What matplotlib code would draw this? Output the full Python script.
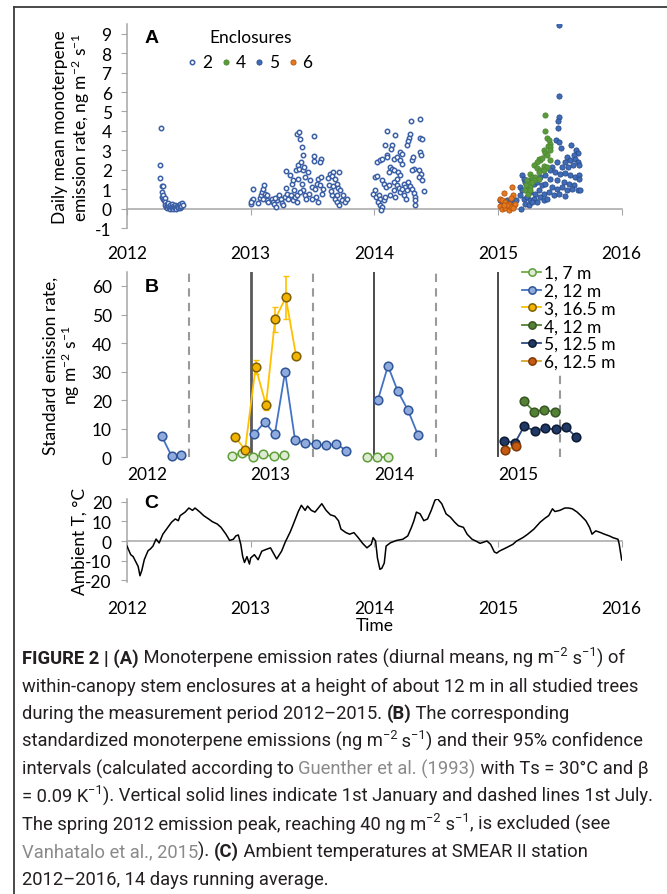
import numpy as np
import matplotlib
matplotlib.use('Agg')
import matplotlib.pyplot as plt
from matplotlib.lines import Line2D

plt.rcParams['font.family'] = ['Lato', 'DejaVu Sans']
plt.rcParams['mathtext.fontset'] = 'custom'
plt.rcParams['mathtext.rm'] = 'Lato'
plt.rcParams['mathtext.it'] = 'Lato:italic'
plt.rcParams['mathtext.bf'] = 'Lato:bold'
plt.rcParams['axes.unicode_minus'] = False

# ---- panel A: daily mean emission rates (decimal year, ng m-2 s-1)
enc2_pts = [
    (2012.275, 4.15), (2012.27, 2.25), (2012.27, 1.6), (2012.28, 1.15), (2012.29, 1.15), (2012.285, 0.85),
    (2012.28, 0.6), (2012.29, 0.5), (2012.295, 0.7), (2012.30, 0.45), (2012.305, 0.55), (2012.31, 0.35),
    (2012.31, 0.2), (2012.315, 0.1), (2012.32, 0.25), (2012.325, 0.05), (2012.33, 0.15), (2012.335, 0.3),
    (2012.34, 0.05), (2012.345, 0.2), (2012.35, 0.0), (2012.355, 0.1), (2012.36, 0.25), (2012.365, 0.05),
    (2012.37, 0.15), (2012.375, 0.0), (2012.38, 0.1), (2012.385, 0.2), (2012.39, 0.05), (2012.395, 0.1),
    (2012.40, 0.0), (2012.405, 0.15), (2012.41, 0.05), (2012.415, 0.1), (2012.42, 0.2), (2012.425, 0.05),
    (2012.43, 0.25), (2012.435, 0.1), (2012.44, 0.15), (2012.445, 0.3), (2012.45, 0.2),
    (2013.003, 0.26), (2013.009, 0.43), (2013.017, 0.51), (2013.022, 1.03), (2013.003, 0.34),
    (2013.063, 0.30), (2013.076, 0.55), (2013.084, 0.69), (2013.09, 0.86), (2013.103, 1.0), (2013.111, 1.2),
    (2013.117, 0.77), (2013.125, 0.6), (2013.13, 0.43), (2013.144, 0.34), (2013.135, 0.69), (2013.098, 0.51),
    (2013.17, 0.51), (2013.178, 0.34), (2013.189, 0.26), (2013.205, 0.09), (2013.216, 0.43), (2013.224, 0.6),
    (2013.232, 0.69), (2013.243, 0.51), (2013.251, 0.3), (2013.259, 0.21), (2013.197, 0.55),
    (2013.278, 0.6), (2013.286, 1.06), (2013.286, 1.92), (2013.297, 0.77), (2013.305, 0.51), (2013.319, 1.71),
    (2013.324, 0.69), (2013.332, 1.29), (2013.34, 0.43), (2013.346, 1.46), (2013.351, 0.94), (2013.359, 0.6),
    (2013.367, 1.97), (2013.373, 0.69),
    (2013.373, 3.86), (2013.392, 3.94), (2013.4, 3.56), (2013.413, 3.17), (2013.427, 2.74), (2013.381, 2.23),
    (2013.392, 2.06), (2013.405, 2.4), (2013.421, 1.97), (2013.432, 2.14), (2013.44, 1.63), (2013.386, 1.54),
    (2013.413, 1.29), (2013.427, 0.94), (2013.44, 0.69), (2013.448, 0.51), (2013.4, 0.86), (2013.378, 0.34),
    (2013.508, 3.74), (2013.508, 2.71), (2013.513, 2.43), (2013.567, 2.57), (2013.561, 2.4), (2013.467, 1.89),
    (2013.48, 1.46), (2013.494, 1.11), (2013.475, 0.77), (2013.521, 1.03), (2013.534, 1.29), (2013.548, 1.54),
    (2013.561, 1.2), (2013.575, 0.77), (2013.583, 1.03), (2013.529, 0.6), (2013.548, 0.34), (2013.494, 0.51),
    (2013.567, 1.63),
    (2013.642, 1.8), (2013.664, 1.86), (2013.715, 1.86), (2013.629, 1.58), (2013.656, 1.68), (2013.683, 1.54),
    (2013.696, 1.29), (2013.637, 1.2), (2013.669, 1.17), (2013.71, 1.06), (2013.723, 0.94), (2013.656, 0.69),
    (2013.683, 0.51), (2013.696, 0.34), (2013.718, 0.17), (2013.737, 0.43), (2013.75, 0.69), (2013.764, 0.34),
    (2013.777, 0.51), (2013.648, 0.89), (2013.702, 0.72),
    (2014.295, 4.53), (2014.371, 4.6), (2014.106, 3.98), (2014.168, 3.8), (2014.29, 3.82), (2014.284, 3.63),
    (2014.276, 3.46), (2014.268, 3.26), (2014.371, 3.63), (2014.384, 3.56), (2014.087, 3.26), (2014.142, 3.26),
    (2014.133, 3.09), (2014.209, 2.9), (2014.222, 2.83), (2014.371, 2.9), (2014.376, 2.74), (2014.02, 2.4),
    (2014.047, 2.5), (2014.06, 2.54), (2014.101, 2.74), (2014.106, 2.64), (2014.155, 2.57), (2014.182, 2.66),
    (2014.209, 2.49), (2014.222, 2.31), (2014.303, 2.49), (2014.311, 2.66), (2014.006, 1.63), (2014.02, 1.68),
    (2014.123, 2.14), (2014.142, 2.06), (2014.155, 1.97), (2014.115, 1.89), (2014.195, 1.89), (2014.209, 1.71),
    (2014.187, 1.54), (2014.317, 2.06), (2014.303, 1.97), (2014.365, 1.97), (2014.376, 1.8), (2014.357, 1.63),
    (2014.384, 1.46), (2014.398, 0.9), (2014.06, 1.46), (2014.074, 1.29), (2014.096, 1.11), (2014.115, 1.2),
    (2014.155, 1.37), (2014.182, 1.23), (2014.203, 1.06), (2014.236, 1.29), (2014.249, 1.11), (2014.263, 0.94),
    (2014.276, 1.37), (2014.29, 1.17), (2014.303, 1.03), (2014.317, 0.82), (2014.325, 0.6), (2014.33, 0.43),
    (2014.33, 0.17), (2014.006, 0.94), (2013.993, 0.77), (2014.015, 0.6), (2014.034, 0.69), (2014.047, 0.51),
    (2014.026, 0.34), (2014.042, 0.21), (2014.06, 0.09), (2014.052, -0.09), (2014.074, 0.43), (2014.087, 0.6),
    (2014.128, 0.69), (2014.155, 0.94), (2014.168, 0.6), (2014.209, 0.86), (2014.236, 0.69), (2014.257, 0.51),
    (2014.222, 1.03),
]
enc5_pts = [
    (2015.495, 9.43), (2015.49, 5.81), (2015.49, 4.71), (2015.484, 4.51), (2015.482, 4.17), (2015.468, 3.55),
    (2015.495, 3.43), (2015.511, 3.14), (2015.59, 3.26), (2015.633, 3.03), (2015.644, 2.86), (2015.611, 2.74),
    (2015.557, 2.66), (2015.625, 2.57), (2015.584, 2.49), (2015.644, 2.4), (2015.544, 2.4), (2015.476, 2.4),
    (2015.652, 2.23), (2015.606, 2.23), (2015.563, 2.14), (2015.517, 2.14), (2015.436, 2.14), (2015.417, 1.97),
    (2015.463, 1.89), (2015.503, 1.8), (2015.544, 1.83), (2015.584, 1.71), (2015.625, 1.63), (2015.652, 1.71),
    (2015.652, 1.54), (2015.382, 1.71), (2015.342, 1.63), (2015.423, 1.54), (2015.476, 1.46), (2015.53, 1.37),
    (2015.571, 1.29), (2015.611, 1.2), (2015.193, 1.71), (2015.207, 1.54), (2015.22, 1.37), (2015.261, 1.46),
    (2015.288, 1.29), (2015.315, 1.37), (2015.355, 1.2), (2015.382, 1.29), (2015.436, 1.11), (2015.476, 1.03),
    (2015.517, 1.11), (2015.557, 0.94), (2015.598, 1.03), (2015.644, 0.94), (2015.66, 0.97), (2015.18, 1.11),
    (2015.193, 0.94), (2015.234, 1.03), (2015.261, 0.86), (2015.301, 0.77), (2015.328, 0.94), (2015.369, 0.77),
    (2015.409, 0.86), (2015.45, 0.69), (2015.49, 0.77), (2015.544, 0.63), (2015.18, 0.69), (2015.207, 0.51),
    (2015.234, 0.6), (2015.261, 0.43), (2015.288, 0.51), (2015.315, 0.34), (2015.342, 0.6), (2015.369, 0.43),
    (2015.396, 0.51), (2015.185, 0.0), (2015.22, 0.26), (2015.247, 0.17), (2015.274, 0.34), (2015.018, 0.43),
    (2015.045, 0.34), (2015.072, 0.43), (2015.099, 0.39), (2015.126, 0.34), (2015.148, 0.43), (2015.032, 0.26),
    (2015.085, 0.22),
]
enc4_pts = [
    (2015.382, 4.8), (2015.376, 3.98), (2015.396, 3.65), (2015.409, 3.51), (2015.417, 3.34), (2015.403, 3.2),
    (2015.423, 3.17), (2015.423, 3.0), (2015.369, 3.0), (2015.382, 2.86), (2015.396, 2.74), (2015.423, 2.49),
    (2015.328, 2.57), (2015.342, 2.49), (2015.315, 2.4), (2015.355, 2.62), (2015.369, 2.2), (2015.396, 2.12),
    (2015.288, 2.23), (2015.315, 2.11), (2015.342, 2.01), (2015.369, 1.97), (2015.328, 1.89), (2015.261, 1.8),
    (2015.274, 1.63), (2015.301, 1.63), (2015.328, 1.54), (2015.288, 1.46), (2015.234, 1.46), (2015.247, 1.29),
    (2015.261, 1.11), (2015.229, 1.2), (2015.274, 1.37), (2015.22, 0.94), (2015.24, 0.77), (2015.255, 0.94),
]
enc6_pts = [
    (2015.112, 1.11), (2015.045, 0.81), (2015.117, 0.69), (2015.104, 0.57), (2015.018, 0.51), (2015.032, 0.43),
    (2015.058, 0.34), (2015.085, 0.26), (2015.126, 0.17), (2015.139, 0.22), (2015.012, 0.12), (2015.032, 0.0),
    (2015.058, 0.05), (2015.085, -0.05), (2015.104, 0.09), (2015.072, 0.17), (2015.045, 0.17), (2015.12, 0.03),
]

# ---- panel B: standard emission rates, one list per campaign
s1_t = [[2012.852, 2012.933, 2013.019, 2013.103, 2013.187, 2013.27], [2013.94, 2014.023, 2014.107]]
s1_v = [[0.6, 1.5, 0.1, 1.0, 0.35, 0.8], [0.25, 0.25, 0.25]]
s2_t = [[2012.28, 2012.36, 2012.44],
        [2013.03, 2013.114, 2013.195, 2013.278, 2013.359, 2013.443, 2013.527, 2013.61, 2013.693, 2013.774],
        [2014.028, 2014.11, 2014.19, 2014.273, 2014.354]]
s2_v = [[7.5, 0.5, 0.7], [8.2, 12.4, 8.0, 29.9, 6.0, 5.1, 4.5, 4.2, 4.7, 2.3], [20.0, 32.0, 23.1, 16.4, 7.7]]
s3_t = [[2012.874, 2012.955, 2013.04, 2013.124, 2013.197, 2013.284, 2013.367]]
s3_v = [[7.1, 2.7, 31.6, 18.3, 48.3, 56.0, 35.5]]
s3_err = [0.0, 0.0, 2.5, 1.7, 4.4, 7.6, 0.0]
s4_t = [[2015.207, 2015.293, 2015.374, 2015.46]]
s4_v = [[19.7, 16.0, 16.7, 15.7]]
s5_t = [[2015.05, 2015.137, 2015.21, 2015.3, 2015.38, 2015.47, 2015.55, 2015.63]]
s5_v = [[5.7, 5.1, 10.8, 9.3, 10.1, 9.8, 10.5, 7.2]]
s6_t = [[2015.06, 2015.145]]
s6_v = [[2.4, 4.0]]
series_labels = ['1, 7 m', '2, 12 m', '3, 16.5 m', '4, 12 m', '5, 12.5 m', '6, 12.5 m']
jan_lines = [2013, 2014, 2015]
jul_lines = [2012.5, 2013.5, 2014.5, 2015.5]

# ---- panel C: ambient temperature, 14 d running mean
temp_t = [2012.0, 2012.03, 2012.05, 2012.09, 2012.105, 2012.12, 2012.14, 2012.17, 2012.19, 2012.21,
          2012.235, 2012.26, 2012.29, 2012.33, 2012.36, 2012.39, 2012.415, 2012.43, 2012.47, 2012.50,
          2012.53, 2012.55, 2012.59, 2012.62, 2012.66, 2012.69, 2012.73, 2012.76, 2012.80, 2012.83,
          2012.86, 2012.88, 2012.90, 2012.92, 2012.935, 2012.95, 2012.97, 2012.99,
          2013.0, 2013.03, 2013.06, 2013.09, 2013.125, 2013.16, 2013.185, 2013.21, 2013.25, 2013.28,
          2013.32, 2013.34, 2013.385, 2013.41, 2013.44, 2013.46, 2013.49, 2013.52, 2013.575, 2013.61,
          2013.645, 2013.68, 2013.71, 2013.73, 2013.77, 2013.80, 2013.835, 2013.87, 2013.905, 2013.94,
          2013.975, 2013.99,
          2014.01, 2014.025, 2014.045, 2014.06, 2014.08, 2014.095, 2014.13, 2014.18, 2014.23, 2014.27,
          2014.30, 2014.32, 2014.34, 2014.37, 2014.40, 2014.43, 2014.46, 2014.49, 2014.51, 2014.545,
          2014.58, 2014.615, 2014.65, 2014.68, 2014.72, 2014.75, 2014.79, 2014.82, 2014.855, 2014.91,
          2014.94, 2014.97, 2014.99,
          2015.01, 2015.065, 2015.12, 2015.15, 2015.20, 2015.24, 2015.29, 2015.34, 2015.38, 2015.41,
          2015.44, 2015.46, 2015.50, 2015.54, 2015.57, 2015.60, 2015.64, 2015.67, 2015.71, 2015.74,
          2015.76, 2015.79, 2015.83, 2015.86, 2015.90, 2015.93, 2015.97, 2015.98, 2016.0]
temp_v = [-2.6, -7, -8, -13, -17.8, -15, -9.5, -5, -4, -2.6,
          1, -1, 3.5, 7, 9.6, 11.3, 10.4, 13, 14.8, 16.9,
          15.7, 16.9, 14.8, 13, 11.3, 9.9, 8.7, 7, 3.5, 0.3,
          0.9, 2.6, 3.1, -1.7, -7.8, -11, -8, -11.8,
          -8.7, -7, -9.6, -5.2, -4.3, -3.5, -6.4, -9.2, -5.2, -0.5,
          4.7, 7.8, 15.1, 18.3, 15.7, 17.9, 15.7, 14.8, 19.1, 15.7,
          13.4, 12.7, 10.4, 6.1, 4.3, 3.5, 4.3, 1.7, -1.2, -3.5,
          -1.7, 1.7,
          0, -8.7, -14.5, -14, -11.3, -2.6, -0.9, 0.3, 0.9, 2.6,
          7, 10.4, 14.8, 13.9, 10.4, 11.3, 15.7, 20.9, 21.7, 19.1,
          13.9, 12.2, 9.6, 7.8, 7, 3.5, 0.9, 0, -1.2, 0,
          -1.7, -5.6, -6.2,
          -5.2, -3.5, -1.7, 0, 1.7, 3.5, 6.1, 9.6, 11.7, 13,
          16.5, 15.1, 15.7, 16.9, 16.9, 16.5, 14.8, 13, 10.4, 7,
          3.5, 5.2, 4.3, 3.5, 2.6, 1.7, 0.9, -1.7, -9.7]

years = [2012, 2013, 2014, 2015, 2016]

AXIS_GRAY = '#a6a6a6'
TICK_SIZE = 12.5

fig = plt.figure(figsize=(6.67, 8.95), dpi=100)

# frame of the figure page
fig.add_artist(Line2D([14 / 667, 1.0], [1 - 8 / 895, 1 - 8 / 895], color='#3a3a3a', lw=1.3))
fig.add_artist(Line2D([14 / 667, 14 / 667], [0.0, 1 - 8 / 895], color='#3a3a3a', lw=1.3))

# ---------------- panel A
axA = fig.add_axes([0.1904, 0.7441, 0.7417, 0.2279])
a2 = np.array(enc2_pts)
a5 = np.array(enc5_pts)
a4 = np.array(enc4_pts)
a6 = np.array(enc6_pts)
h2 = axA.scatter(a2[:, 0], a2[:, 1], s=10, facecolor='white', edgecolor='#3b5fa6', linewidth=1.1, zorder=3)
h5 = axA.scatter(a5[:, 0], a5[:, 1], s=14, facecolor='#3f6cb9', edgecolor='#2a4c8a', linewidth=0.6, zorder=3)
h4 = axA.scatter(a4[:, 0], a4[:, 1], s=14, facecolor='#5b9a3c', edgecolor='#4d8a32', linewidth=0.6, zorder=4)
h6 = axA.scatter(a6[:, 0], a6[:, 1], s=14, facecolor='#e6781e', edgecolor='#b35510', linewidth=0.6, zorder=5)
axA.set_xlim(2012, 2016)
axA.set_ylim(-1, 9.5)
axA.set_yticks(range(-1, 10))
axA.set_xticks(years)
for side in ['top', 'right']:
    axA.spines[side].set_visible(False)
axA.spines['bottom'].set_position(('data', 0))
for side in ['bottom', 'left']:
    axA.spines[side].set_color(AXIS_GRAY)
    axA.spines[side].set_linewidth(1.1)
axA.tick_params(axis='x', length=4.5, color=AXIS_GRAY, pad=22, labelsize=TICK_SIZE)
axA.tick_params(axis='y', length=4, color=AXIS_GRAY, pad=7, labelsize=TICK_SIZE)
axA.set_ylabel('Daily mean monoterpene\nemission rate, ng m$^{-2}$ s$^{-1}$', fontsize=TICK_SIZE,
               va='center', linespacing=1.05)
axA.yaxis.set_label_coords(-0.111, 0.5)
axA.text(0.05, 0.935, 'A', transform=axA.transAxes, fontsize=14, fontweight='bold',
         family='Liberation Sans', ha='center', va='center')
legA = axA.legend([h2, h4, h5, h6], ['2', '4', '5', '6'], ncol=4, title='Enclosures',
                  loc='upper center', bbox_to_anchor=(0.249, 0.975), frameon=False,
                  fontsize=TICK_SIZE, title_fontsize=TICK_SIZE, handlelength=0.5,
                  handletextpad=0.3, columnspacing=0.55, borderpad=0, borderaxespad=0,
                  scatterpoints=1)

# ---------------- panel B
axB = fig.add_axes([0.1904, 0.4879, 0.7417, 0.2074])
styles = [
    dict(color='#70ad47', mfc='#dcebd2', mec='#5f9e3a'),
    dict(color='#4472c4', mfc='#8faadc', mec='#2f5597'),
    dict(color='#ffc000', mfc='#f2b400', mec='#7f6000'),
    dict(color='#548235', mfc='#548235', mec='#375623'),
    dict(color='#2e4a7d', mfc='#1f3864', mec='#0d1a33'),
    dict(color='#d4a52a', mfc='#c55a11', mec='#7f3a0a'),
]
all_t = [s1_t, s2_t, s3_t, s4_t, s5_t, s6_t]
all_v = [s1_v, s2_v, s3_v, s4_v, s5_v, s6_v]
handlesB = []
for k, (ts, vs) in enumerate(zip(all_t, all_v)):
    st = styles[k]
    for j, (t, v) in enumerate(zip(ts, vs)):
        ln, = axB.plot(t, v, '-o', color=st['color'], lw=1.3, ms=6.2, mfc=st['mfc'], mec=st['mec'],
                       mew=1.1, zorder=4, clip_on=False)
        if j == 0:
            handlesB.append(ln)
axB.errorbar(s3_t[0], s3_v[0], yerr=s3_err, fmt='none', ecolor='#ffc000', elinewidth=1.2,
             capsize=2, capthick=1.0, zorder=3)
for x in jan_lines:
    if x == 2013:
        axB.axvline(x, color='#5a5a5a', lw=2.0, zorder=2)
    else:
        axB.axvline(x, color='#1a1a1a', lw=1.1, zorder=2)
for x in jul_lines:
    axB.axvline(x, color='#9a9a9a', lw=1.5, ls=(0, (4, 3)), zorder=1)
axB.set_xlim(2012, 2016)
axB.set_ylim(0, 65)
axB.set_yticks(range(0, 61, 10))
axB.set_xticks(years[:-1])
axB.set_xticklabels([str(y) for y in years[:-1]], ha='left')
for side in ['top', 'right', 'bottom']:
    axB.spines[side].set_visible(False)
axB.spines['left'].set_color(AXIS_GRAY)
axB.spines['left'].set_linewidth(1.1)
axB.tick_params(axis='x', length=0, pad=6, labelsize=TICK_SIZE)
axB.tick_params(axis='y', length=4, color=AXIS_GRAY, pad=7, labelsize=TICK_SIZE)
axB.set_ylabel('Standard emission rate,\nng m$^{-2}$ s$^{-1}$', fontsize=TICK_SIZE, va='center',
               linespacing=1.05)
axB.yaxis.set_label_coords(-0.131, 0.5)
axB.text(0.05, 0.918, 'B', transform=axB.transAxes, fontsize=14, fontweight='bold',
         family='Liberation Sans', ha='center', va='center')
legB = axB.legend(handlesB, series_labels, loc='upper left', bbox_to_anchor=(0.795, 1.045),
                  fontsize=TICK_SIZE, handlelength=1.1, handletextpad=0.15, labelspacing=0.1,
                  borderpad=0.1, borderaxespad=0, frameon=True, framealpha=1, edgecolor='none',
                  facecolor='white', markerscale=0.85)
legB.set_zorder(6)

# ---------------- panel C
axC = fig.add_axes([0.1904, 0.3486, 0.7417, 0.0927])
axC.plot(temp_t, temp_v, color='black', lw=1.1, zorder=3)
axC.set_xlim(2012, 2016)
axC.set_ylim(-21, 21.5)
axC.set_yticks(range(-20, 21, 10))
axC.set_xticks(years)
for side in ['top', 'right']:
    axC.spines[side].set_visible(False)
axC.spines['bottom'].set_position(('data', 0))
for side in ['bottom', 'left']:
    axC.spines[side].set_color(AXIS_GRAY)
    axC.spines[side].set_linewidth(1.1)
axC.tick_params(axis='x', length=4.5, color=AXIS_GRAY, pad=38, labelsize=TICK_SIZE)
axC.tick_params(axis='y', length=4, color=AXIS_GRAY, pad=7, labelsize=TICK_SIZE)
axC.set_xlabel('Time', fontsize=TICK_SIZE, labelpad=1)
axC.set_ylabel('Ambient T, °C', fontsize=TICK_SIZE, va='center')
axC.yaxis.set_label_coords(-0.096, 0.5)
axC.text(0.05, 0.96, 'C', transform=axC.transAxes, fontsize=14, fontweight='bold',
         family='Liberation Sans', ha='center', va='center')

# ---------------- caption (rich text: r=regular, b=bold, g=link gray, s=superscript)
caption = [
    [('FIGURE 2 | (A)', 'b'), (' Monoterpene emission rates (diurnal means, ng m', 'r'), ('\u22122', 's'),
     (' s', 'r'), ('\u22121', 's'), (') of', 'r')],
    [('within-canopy stem enclosures at a height of about 12 m in all studied trees', 'r')],
    [('during the measurement period 2012\u20132015. ', 'r'), ('(B)', 'b'), (' The corresponding', 'r')],
    [('standardized monoterpene emissions (ng m', 'r'), ('\u22122', 's'), (' s', 'r'), ('\u22121', 's'),
     (') and their 95% confidence', 'r')],
    [('intervals (calculated according to ', 'r'), ('Guenther et al. (1993)', 'g'),
     (' with Ts = 30\u00b0C and \u03b2', 'r')],
    [('= 0.09 K', 'r'), ('\u22121', 's'),
     ('). Vertical solid lines indicate 1st January and dashed lines 1st July.', 'r')],
    [('The spring 2012 emission peak, reaching 40 ng m', 'r'), ('\u22122', 's'), (' s', 'r'),
     ('\u22121', 's'), (', is excluded (see', 'r')],
    [('Vanhatalo et al., 2015', 'g'), ('). ', 'r'), ('(C)', 'b'),
     (' Ambient temperatures at SMEAR II station', 'r')],
    [('2012\u20132016, 14 days running average.', 'r')],
]

renderer = fig.canvas.get_renderer()
W, H = fig.bbox.width, fig.bbox.height
CAP_FONT = 'Roboto'
CAP_COLOR = '#231f20'
LINK_COLOR = '#8a8a8a'


def seg_props(style, size):
    weight = 'bold' if style == 'b' else 'normal'
    fsize = size * 0.7 if style == 's' else size
    color = LINK_COLOR if style == 'g' else CAP_COLOR
    return dict(fontsize=fsize, fontweight=weight, color=color, family=CAP_FONT)


def seg_width(s, style, size):
    props = seg_props(style, size)
    a = fig.text(0, 0, '|' + s + '|', **props)
    b = fig.text(0, 0, '||', **props)
    w = a.get_window_extent(renderer).width - b.get_window_extent(renderer).width
    a.remove()
    b.remove()
    return w


base = 12.0
line6 = sum(seg_width(s, st, base) for s, st in caption[5])
cap_size = base * 629.0 / line6

x0, y0, dy = 22.0, 664.0, 27.6
for i, line in enumerate(caption):
    x = x0
    ybase = y0 + i * dy
    for s, st in line:
        props = seg_props(st, cap_size)
        raise_px = cap_size * 0.42 * fig.dpi / 72 if st == 's' else 0
        fig.text(x / W, 1 - (ybase - raise_px) / H, s, va='baseline', ha='left', **props)
        x += seg_width(s, st, cap_size)

fig.savefig('out.png', dpi=100)
